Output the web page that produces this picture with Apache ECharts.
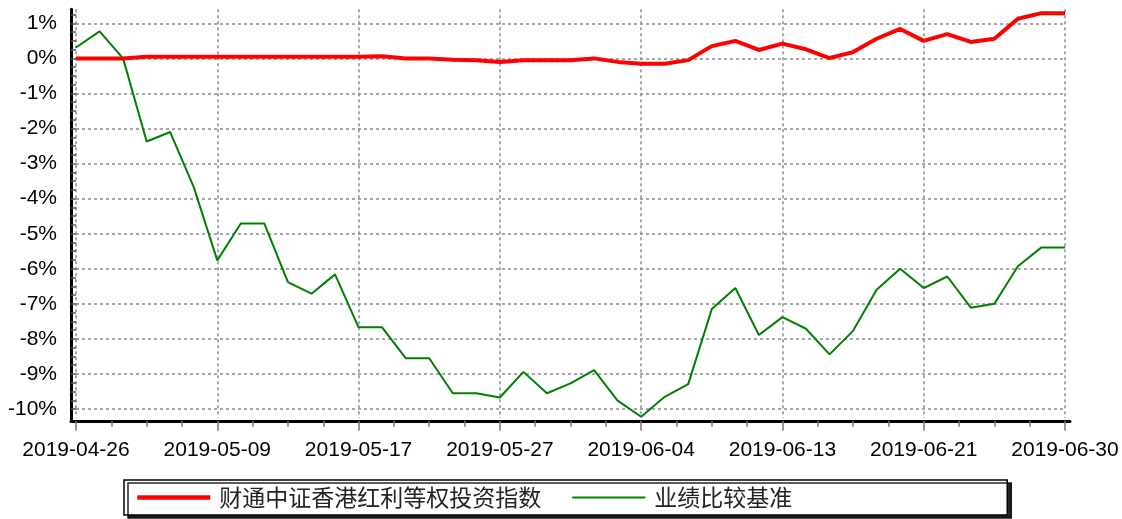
<!DOCTYPE html>
<html>
<head>
<meta charset="utf-8">
<script src="https://cdn.jsdelivr.net/npm/echarts@6/dist/echarts.min.js"></script>
<style>
html,body{margin:0;padding:0;background:#fff;}
#chart{width:1122px;height:519px;}
</style>
</head>
<body>
<div id="chart"></div>
<script>
const dates = ['2019-04-26','2019-04-29','2019-04-30','2019-05-06','2019-05-07','2019-05-08','2019-05-09','2019-05-10','2019-05-13','2019-05-14','2019-05-15','2019-05-16','2019-05-17','2019-05-20','2019-05-21','2019-05-22','2019-05-23','2019-05-24','2019-05-27','2019-05-28','2019-05-29','2019-05-30','2019-05-31','2019-06-03','2019-06-04','2019-06-05','2019-06-06','2019-06-10','2019-06-11','2019-06-12','2019-06-13','2019-06-14','2019-06-17','2019-06-18','2019-06-19','2019-06-20','2019-06-21','2019-06-24','2019-06-25','2019-06-26','2019-06-27','2019-06-28','2019-06-30'];
const fundName = '财通中证香港红利等权投资指数';
const benchName = '业绩比较基准';
const fundValues = [0,0,0,0.05,0.05,0.05,0.05,0.05,0.05,0.05,0.05,0.05,0.05,0.06,0,0,-0.04,-0.05,-0.1,-0.05,-0.05,-0.05,0,-0.1,-0.15,-0.15,-0.05,0.35,0.5,0.24,0.42,0.26,0.01,0.18,0.56,0.84,0.5,0.69,0.47,0.56,1.13,1.29,1.29];
const benchValues = [0.31,0.77,0,-2.37,-2.1,-3.67,-5.76,-4.71,-4.71,-6.38,-6.71,-6.16,-7.67,-7.67,-8.55,-8.55,-9.55,-9.55,-9.67,-8.94,-9.55,-9.27,-8.89,-9.76,-10.22,-9.65,-9.29,-7.15,-6.55,-7.89,-7.38,-7.71,-8.44,-7.77,-6.6,-6.0,-6.55,-6.22,-7.11,-7.0,-5.93,-5.39,-5.39];
const yTickValues = [1,0,-1,-2,-3,-4,-5,-6,-7,-8,-9,-10];

const gridDash = {color:'#8a8a8a', width:1.5, type:[3,3]};
const fontLatin = '"Liberation Sans", Arial, sans-serif';

const chart = echarts.init(document.getElementById('chart'), null, {renderer:'canvas'});
chart.setOption({
  animation:false,
  backgroundColor:'#fff',
  grid:[
    {left:76, right:57, top:9.3, bottom:101.2},
    {left:71, right:52, top:9.3, bottom:98.2}
  ],
  legend:{
    left:124, top:480,
    padding:[6,215,6,11],
    backgroundColor:'#fff',
    borderColor:'#000', borderWidth:1.5,
    shadowColor:'rgba(0,0,0,0.85)', shadowBlur:0, shadowOffsetX:4, shadowOffsetY:3,
    itemWidth:73, itemHeight:14, itemGap:30,
    itemStyle:{opacity:0},
    textStyle:{fontSize:23, fontFamily:'"Noto Sans CJK SC", sans-serif', color:'#222', padding:[0,0,0,4]},
    data:[
      {name:fundName, lineStyle:{width:4.5, color:'#ff0000'}},
      {name:benchName, lineStyle:{width:2, color:'#008000'}}
    ]
  },
  xAxis:[
    {
      type:'value', gridIndex:0, min:0, max:dates.length-1, interval:6, offset:3,
      axisLine:{show:false, onZero:false},
      axisTick:{show:true, length:10, lineStyle:{color:'#777', width:1.5}},
      minorTick:{show:true, splitNumber:4, length:6, lineStyle:{color:'#777', width:1.5}},
      splitLine:{show:true, lineStyle:gridDash},
      axisLabel:{fontSize:21, fontFamily:fontLatin, color:'#000', margin:19,
        formatter:function(v){ return dates[Math.round(v)] || ''; }}
    },
    {
      type:'value', gridIndex:1, min:0, max:1,
      axisLine:{show:true, onZero:false, lineStyle:{color:'#000', width:3}},
      axisTick:{show:false}, axisLabel:{show:false}, splitLine:{show:false}
    }
  ],
  yAxis:[
    {
      type:'value', gridIndex:0, min:-10.25, max:1.4, interval:0.25, offset:5,
      axisLine:{show:false},
      axisTick:{show:true, length:5, lineStyle:{color:'#555', width:1.5}},
      splitLine:{show:false},
      axisLabel:{fontSize:21, fontFamily:fontLatin, color:'#000', margin:14,
        padding:[4,0,0,0],
        showMinLabel:false, showMaxLabel:false,
        formatter:function(v){
          const r = Math.round(v);
          if (Math.abs(v - r) < 1e-6 && yTickValues.indexOf(r) >= 0) return r + '%';
          return '';
        }}
    },
    {
      type:'value', gridIndex:1, min:0, max:1,
      axisLine:{show:true, onZero:false, lineStyle:{color:'#000', width:3}},
      axisTick:{show:false}, axisLabel:{show:false}, splitLine:{show:false}
    }
  ],
  series:[
    {
      name:benchName, type:'line', xAxisIndex:0, yAxisIndex:0,
      data:benchValues.map(function(v,i){return [i,v];}),
      symbol:'none', showSymbol:false,
      lineStyle:{color:'#008000', width:2},
      itemStyle:{color:'#008000'},
      z:3,
      markLine:{
        silent:true, symbol:['none','none'], z:1,
        label:{show:false},
        lineStyle:gridDash,
        emphasis:{disabled:true},
        data:yTickValues.map(function(v){return {yAxis:v};})
      }
    },
    {
      name:fundName, type:'line', xAxisIndex:0, yAxisIndex:0,
      data:fundValues.map(function(v,i){return [i,v];}),
      symbol:'none', showSymbol:false,
      lineStyle:{color:'#ff0000', width:4},
      itemStyle:{color:'#ff0000'},
      z:4
    }
  ]
});
</script>
</body>
</html>
